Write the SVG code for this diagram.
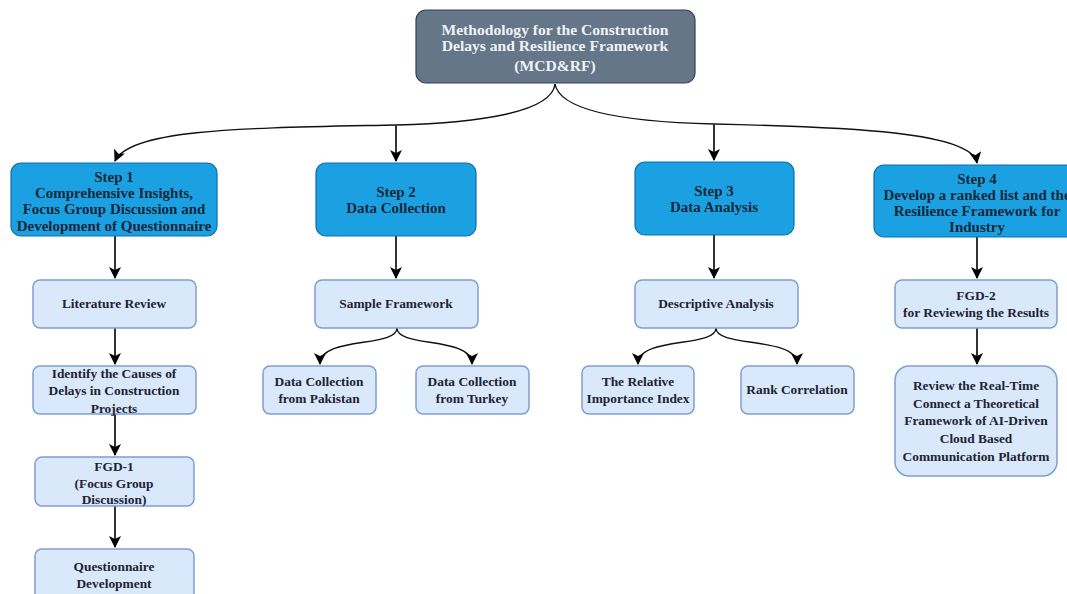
<svg xmlns="http://www.w3.org/2000/svg" width="1067" height="594" viewBox="0 0 1067 594">
<defs>
<style>
.root{fill:#647687;stroke:#314354;stroke-width:1.2}
.step{fill:#1ba1e2;stroke:#0a6fae;stroke-width:1.2}
.sub{fill:#dae8fc;stroke:#7f9fcf;stroke-width:1.5}
text{font-family:"Liberation Serif","Times New Roman",serif;font-weight:bold;text-anchor:middle}
.rt{fill:#eef3f8;font-size:15.6px}
.st{fill:#14283a;font-size:15px}
.bt{fill:#1d2433;font-size:13.4px}
.edge{fill:none;stroke:#111;stroke-width:1.4}
.edge2{fill:none;stroke:#333;stroke-width:2}
</style>
<marker id="arr" markerUnits="userSpaceOnUse" markerWidth="12" markerHeight="12" viewBox="0 0 12 12" refX="11" refY="6" orient="auto">
<path d="M0,0 L12,6 L0,12 L3,6 Z" fill="#000"/>
</marker>
</defs>

<g id="connectors">
<path class="edge" d="M555,84 C552,112 480,123 396,125 C250,128 130,128 115,161" marker-end="url(#arr)"/>
<path class="edge2" d="M396,125 L396,161" marker-end="url(#arr)"/>
<path class="edge" d="M555,84 C560,112 630,122 714,124 C850,127 972,132 977,163" marker-end="url(#arr)"/>
<path class="edge2" d="M714,124 L714,160" marker-end="url(#arr)"/>
<path class="edge2" d="M115,236 L115,278" marker-end="url(#arr)"/>
<path class="edge2" d="M396,236 L396,278" marker-end="url(#arr)"/>
<path class="edge2" d="M714,235 L714,278" marker-end="url(#arr)"/>
<path class="edge2" d="M977,237 L977,278" marker-end="url(#arr)"/>
<path class="edge2" d="M115,328 L115,364" marker-end="url(#arr)"/>
<path class="edge2" d="M115,414 L115,455" marker-end="url(#arr)"/>
<path class="edge2" d="M115,506 L115,547" marker-end="url(#arr)"/>
<path class="edge2" d="M977,328 L977,364" marker-end="url(#arr)"/>
<path class="edge" d="M397,328 C397,348 320,336 320,364" marker-end="url(#arr)"/>
<path class="edge" d="M397,328 C397,348 472,336 472,364" marker-end="url(#arr)"/>
<path class="edge" d="M716,328 C716,348 638,336 638,364" marker-end="url(#arr)"/>
<path class="edge" d="M716,328 C716,348 797,336 797,364" marker-end="url(#arr)"/>
</g>

<g id="root">
<rect class="root" x="416" y="10" width="279" height="73" rx="10"/>
<text class="rt" x="555" y="35">Methodology for the Construction</text>
<text class="rt" x="555" y="51">Delays and Resilience Framework</text>
<text class="rt" x="555" y="71">(MCD&amp;RF)</text>
</g>

<g id="step1">
<rect class="step" x="11" y="163" width="206" height="73" rx="10"/>
<text class="st" x="114" y="182">Step 1</text>
<text class="st" x="114" y="198">Comprehensive Insights,</text>
<text class="st" x="114" y="214">Focus Group Discussion and</text>
<text class="st" x="114" y="231">Development of Questionnaire</text>
</g>

<g id="step2">
<rect class="step" x="316" y="163" width="160" height="73" rx="10"/>
<text class="st" x="396" y="197">Step 2</text>
<text class="st" x="396" y="213">Data Collection</text>
</g>

<g id="step3">
<rect class="step" x="635" y="162" width="159" height="73" rx="10"/>
<text class="st" x="714" y="196">Step 3</text>
<text class="st" x="714" y="212">Data Analysis</text>
</g>

<g id="step4">
<rect class="step" x="874" y="165" width="206" height="72" rx="10"/>
<text class="st" x="977" y="184">Step 4</text>
<text class="st" x="977" y="200">Develop a ranked list and the</text>
<text class="st" x="977" y="216">Resilience Framework for</text>
<text class="st" x="977" y="232">Industry</text>
</g>

<g id="lit">
<rect class="sub" x="33" y="280" width="163" height="48" rx="7"/>
<text class="bt" x="114" y="308">Literature Review</text>
</g>

<g id="identify">
<rect class="sub" x="33" y="366" width="163" height="48" rx="7"/>
<text class="bt" x="114" y="378">Identify the Causes of</text>
<text class="bt" x="114" y="395">Delays in Construction</text>
<text class="bt" x="114" y="413">Projects</text>
</g>

<g id="fgd1">
<rect class="sub" x="35" y="457" width="159" height="49" rx="7"/>
<text class="bt" x="114" y="471">FGD-1</text>
<text class="bt" x="114" y="488">(Focus Group</text>
<text class="bt" x="114" y="504">Discussion)</text>
</g>

<g id="questionnaire">
<rect class="sub" x="35" y="549" width="159" height="55" rx="7"/>
<text class="bt" x="114" y="571">Questionnaire</text>
<text class="bt" x="114" y="588">Development</text>
</g>

<g id="sample">
<rect class="sub" x="315" y="280" width="163" height="48" rx="7"/>
<text class="bt" x="396" y="308">Sample Framework</text>
</g>

<g id="pakistan">
<rect class="sub" x="263" y="366" width="113" height="48" rx="7"/>
<text class="bt" x="319" y="386">Data Collection</text>
<text class="bt" x="319" y="403">from Pakistan</text>
</g>

<g id="turkey">
<rect class="sub" x="416" y="366" width="113" height="48" rx="7"/>
<text class="bt" x="472" y="386">Data Collection</text>
<text class="bt" x="472" y="403">from Turkey</text>
</g>

<g id="descriptive">
<rect class="sub" x="635" y="280" width="163" height="48" rx="7"/>
<text class="bt" x="716" y="308">Descriptive Analysis</text>
</g>

<g id="rii">
<rect class="sub" x="582" y="366" width="112" height="48" rx="7"/>
<text class="bt" x="638" y="386">The Relative</text>
<text class="bt" x="638" y="403">Importance Index</text>
</g>

<g id="rank">
<rect class="sub" x="741" y="366" width="113" height="48" rx="7"/>
<text class="bt" x="797" y="394">Rank Correlation</text>
</g>

<g id="fgd2">
<rect class="sub" x="895" y="280" width="162" height="48" rx="7"/>
<text class="bt" x="976" y="300">FGD-2</text>
<text class="bt" x="976" y="317">for Reviewing the Results</text>
</g>

<g id="review">
<rect class="sub" x="895" y="366" width="162" height="110" rx="14"/>
<text class="bt" x="976" y="390">Review the Real-Time</text>
<text class="bt" x="976" y="408">Connect a Theoretical</text>
<text class="bt" x="976" y="425">Framework of AI-Driven</text>
<text class="bt" x="976" y="443">Cloud Based</text>
<text class="bt" x="976" y="461">Communication Platform</text>
</g>
</svg>
